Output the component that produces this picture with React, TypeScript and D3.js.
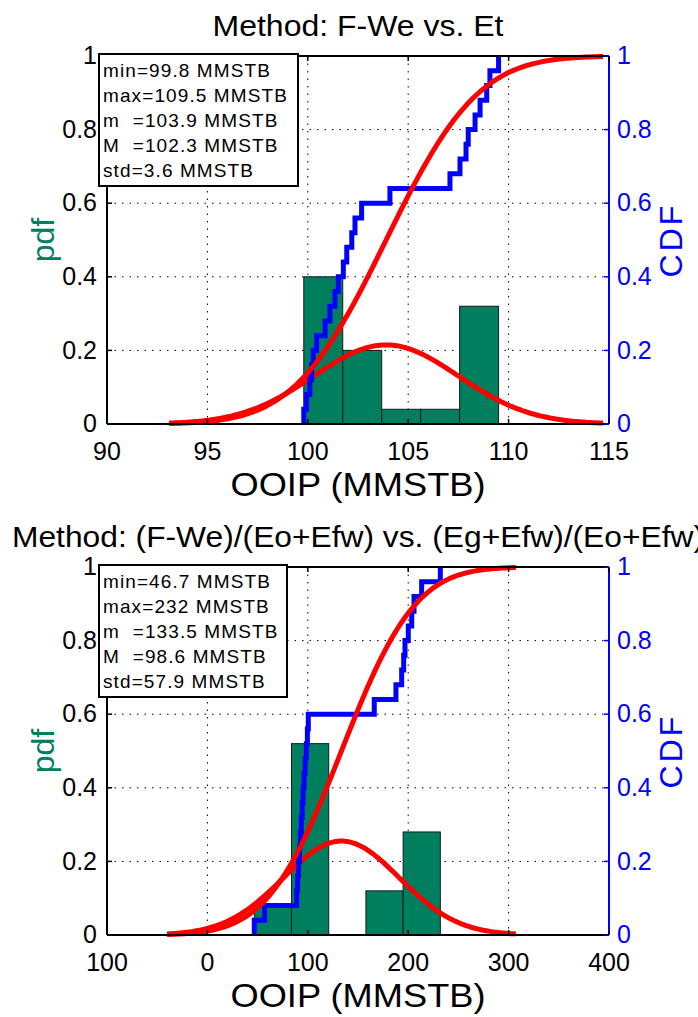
import React from "react";
import * as d3 from "d3";

// shared y ticks (pdf on the left, CDF on the right, both 0..1)
const yTicks = [0, 0.2, 0.4, 0.6, 0.8, 1];
const yTickLabels = ["0", "0.2", "0.4", "0.6", "0.8", "1"];

// --- Method: F-We vs. Et ---
const title1 = "Method: F-We vs. Et";
const samples1 = [99.8, 99.94, 100.1, 100.19, 100.27, 100.44, 100.86, 101.1, 101.35, 101.52, 101.77, 101.94, 102.19,
  102.35, 102.68, 104.09, 107.08, 107.58, 107.88, 107.99, 108.33, 108.58, 108.91, 109.07, 109.5];
const freq1 = [0.4, 0.2, 0.04, 0.04, 0.32];
const minMax1 = [99.8, 109.5];
const meanStd1 = [103.9, 3.6];
const stats1 = ["min=99.8 MMSTB", "max=109.5 MMSTB", "m  =103.9 MMSTB", "M  =102.3 MMSTB", "std=3.6 MMSTB"];
const xDomain1 = [90, 115];
const xTicks1 = [90, 95, 100, 105, 110, 115];
const xTickLabels1 = ["90", "95", "100", "105", "110", "115"];

// --- Method: (F-We)/(Eo+Efw) vs. (Eg+Efw)/(Eo+Efw) ---
const title2 = "Method: (F-We)/(Eo+Efw) vs. (Eg+Efw)/(Eo+Efw)";
const samples2 = [46.7, 57, 88.9, 89.8, 90.8, 91.7, 92.6, 93.5, 94.4, 95.3, 96.3, 97.4, 98.6, 99.6, 100.5,
  166.2, 187.8, 193.5, 195.5, 196.8, 200.1, 203.5, 205.8, 213.4, 232];
const freq2 = [0.08, 0.52, 0, 0.12, 0.28];
const minMax2 = [46.7, 232];
const meanStd2 = [133.5, 57.9];
const stats2 = ["min=46.7 MMSTB", "max=232 MMSTB", "m  =133.5 MMSTB", "M  =98.6 MMSTB", "std=57.9 MMSTB"];
const xDomain2 = [-100, 400];
const xTicks2 = [-100, 0, 100, 200, 300, 400];
const xTickLabels2 = ["100", "0", "100", "200", "300", "400"];

const FONT = "'Liberation Sans', Arial, sans-serif";
const GREEN = "#007f5f";
const BLUE = "#0000ff";
const RED = "#ff0000";
const L = 107, R = 609, PH = 368;

function erf(x: number) {
  const t = 1 / (1 + 0.3275911 * Math.abs(x));
  const y = 1 - ((((1.061405429 * t - 1.453152027) * t + 1.421413741) * t - 0.284496736) * t + 0.254829592) * t * Math.exp(-x * x);
  return x >= 0 ? y : -y;
}
const normPdf = (v: number, m: number, s: number) => Math.exp(-0.5 * ((v - m) / s) ** 2) / (s * Math.sqrt(2 * Math.PI));
const normCdf = (v: number, m: number, s: number) => 0.5 * (1 + erf((v - m) / (s * Math.SQRT2)));

function Panel(props: any) {
  const { top, title, titleLen, samples, freq, minMax, meanStd, stats, boxW, xDomain, xTicks, xTickLabels } = props;
  const x = d3.scaleLinear().domain(xDomain).range([L, R]);
  const y = d3.scaleLinear().domain([0, 1]).range([top + PH, top]);
  const [lo, hi] = minMax;
  const [mean, std] = meanStd;
  const bw = (hi - lo) / freq.length;
  const edges = d3.range(freq.length + 1).map((i) => lo + bw * i);

  // fitted normal: pdf scaled to bin width, and its cdf, over mean +- 3 std
  const xs = d3.range(201).map((i) => mean - 3 * std + (6 * std * i) / 200);
  const pdfPath = d3.line<number>().x((v) => x(v)).y((v) => y(bw * normPdf(v, mean, std)))(xs);
  const cdfPath = d3.line<number>().x((v) => x(v)).y((v) => y(normCdf(v, mean, std)))(xs);

  const sorted = samples.slice().sort(d3.ascending);
  const n = sorted.length;
  const pts: [number, number][] = [[sorted[0], 0], ...sorted.map((v: number, i: number) => [v, (i + 1) / n] as [number, number])];
  const ecdfPath = d3.line<[number, number]>().x((d) => x(d[0])).y((d) => y(d[1])).curve(d3.curveStepAfter)(pts);

  return (
    <g>
      <text x={(L + R) / 2} y={top - 20} textAnchor="middle" fontSize={30} textLength={titleLen} lengthAdjust="spacingAndGlyphs">{title}</text>
      {/* grid */}
      {xTicks.slice(1, -1).map((t: number) => (
        <line key={"gx" + t} x1={x(t)} x2={x(t)} y1={top} y2={top + PH} stroke="#000" strokeWidth={1} strokeDasharray="1.5,6" />
      ))}
      {yTicks.slice(1, -1).map((t) => (
        <line key={"gy" + t} x1={L} x2={R} y1={y(t)} y2={y(t)} stroke="#000" strokeWidth={1} strokeDasharray="1.5,6" />
      ))}
      {/* histogram */}
      {freq.map((f: number, i: number) => (
        <rect key={"b" + i} x={x(edges[i])} y={y(f)} width={x(edges[i + 1]) - x(edges[i])} height={y(0) - y(f)}
          fill={GREEN} stroke="#1a1a1a" strokeWidth={1} />
      ))}
      <path d={pdfPath!} fill="none" stroke={RED} strokeWidth={5} />
      <path d={ecdfPath!} fill="none" stroke={BLUE} strokeWidth={5} />
      <path d={cdfPath!} fill="none" stroke={RED} strokeWidth={5} />
      {/* axes frame */}
      <line x1={L} x2={R} y1={top} y2={top} stroke="#000" strokeWidth={2} />
      <line x1={L} x2={R} y1={top + PH} y2={top + PH} stroke="#000" strokeWidth={2} />
      <line x1={L} x2={L} y1={top} y2={top + PH} stroke="#000" strokeWidth={2} />
      <line x1={R} x2={R} y1={top} y2={top + PH} stroke={BLUE} strokeWidth={2} />
      {xTicks.map((t: number, i: number) => (
        <g key={"xt" + t}>
          <line x1={x(t)} x2={x(t)} y1={top + PH} y2={top + PH - 5} stroke="#000" strokeWidth={1.5} />
          <line x1={x(t)} x2={x(t)} y1={top} y2={top + 5} stroke="#000" strokeWidth={1.5} />
          <text x={x(t)} y={top + PH + 36} textAnchor="middle" fontSize={25}>{xTickLabels[i]}</text>
        </g>
      ))}
      {yTicks.map((t, i) => (
        <g key={"yt" + t}>
          <line x1={L} x2={L + 5} y1={y(t)} y2={y(t)} stroke="#000" strokeWidth={1.5} />
          <line x1={R} x2={R - 5} y1={y(t)} y2={y(t)} stroke={BLUE} strokeWidth={1.5} />
          <text x={97} y={y(t)} dy="0.33em" textAnchor="end" fontSize={25}>{yTickLabels[i]}</text>
          <text x={617} y={y(t)} dy="0.33em" textAnchor="start" fontSize={25} fill={BLUE}>{yTickLabels[i]}</text>
        </g>
      ))}
      <text transform={`translate(54,${top + PH / 2}) rotate(-90)`} textAnchor="middle" fontSize={32} fill={GREEN}>pdf</text>
      <text transform={`translate(682,${top + PH / 2}) rotate(-90)`} textAnchor="middle" fontSize={32} fill={BLUE} letterSpacing={3}>CDF</text>
      <text x={(L + R) / 2} y={top + PH + 72} textAnchor="middle" fontSize={34} textLength={255} lengthAdjust="spacingAndGlyphs">OOIP (MMSTB)</text>
      {/* stats box */}
      <rect x={99} y={top - 2} width={boxW} height={132} fill="#fff" stroke="#000" strokeWidth={2} />
      {stats.map((s: string, i: number) => (
        <text key={"s" + i} x={103} y={top + 21 + 25 * i} fontSize={19} letterSpacing={1.1} style={{ whiteSpace: "pre" }}>{s}</text>
      ))}
    </g>
  );
}

export default function App() {
  return (
    <svg width={698} height={1017} style={{ position: "absolute", left: 0, top: 0, background: "#fff" }} fontFamily={FONT}>
      <rect width={698} height={1017} fill="#fff" />
      <Panel top={56} title={title1} titleLen={291} samples={samples1} freq={freq1} minMax={minMax1} meanStd={meanStd1}
        stats={stats1} boxW={199} xDomain={xDomain1} xTicks={xTicks1} xTickLabels={xTickLabels1} />
      <Panel top={567} title={title2} titleLen={692} samples={samples2} freq={freq2} minMax={minMax2} meanStd={meanStd2}
        stats={stats2} boxW={188} xDomain={xDomain2} xTicks={xTicks2} xTickLabels={xTickLabels2} />
    </svg>
  );
}
